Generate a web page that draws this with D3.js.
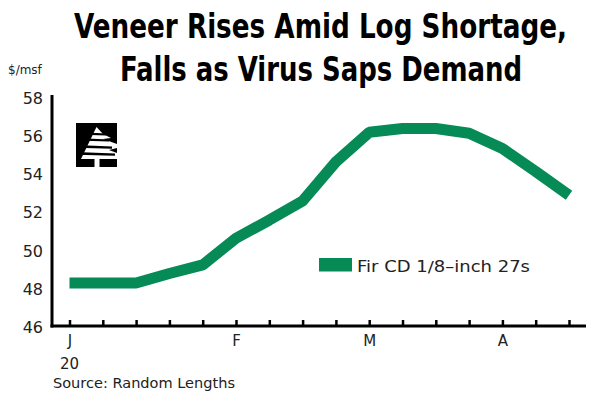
<!DOCTYPE html>
<html>
<head>
<meta charset="utf-8">
<script src="https://cdn.jsdelivr.net/npm/d3@7"></script>
<style>
  body { margin: 0; background: #fff; }
  svg { display: block; }
  .tick text { font-family: "DejaVu Sans", sans-serif; }
</style>
</head>
<body>
<svg id="chart" width="600" height="399"></svg>
<script>
// weekly prices, Jan-Apr 2020
var weeks = d3.range(16);
var prices = [48.25, 48.25, 48.25, 48.75, 49.2, 50.6, 51.55, 52.55, 54.6, 56.15, 56.35, 56.35, 56.1, 55.3, 54.1, 52.85];
var yTicks = [46, 48, 50, 52, 54, 56, 58];
var monthLabels = { 0: "J", 5: "F", 9: "M", 13: "A" };
var seriesName = "Fir CD 1\u22158\u2013inch 27s";

var svg = d3.select("#chart"),
    green = "#068a56",
    font = '"DejaVu Sans", sans-serif';

var x = d3.scaleLinear().domain([0, 15]).range([69.5, 569]),
    y = d3.scaleLinear().domain([46, 58]).range([326, 97]);

// title: narrow font stretched vertically so it stays inside the frame
var titleFont = '"Liberation Sans Narrow", "DejaVu Sans Condensed", sans-serif';
var title = svg.append("g").attr("transform", "scale(1,1.2)");
title.append("text")
   .attr("x", 74).attr("y", 38 / 1.2)
   .attr("font-family", titleFont).attr("font-weight", "bold")
   .attr("font-size", 28)
   .attr("textLength", 493).attr("lengthAdjust", "spacingAndGlyphs")
   .text("Veneer Rises Amid Log Shortage,");
title.append("text")
   .attr("x", 120).attr("y", 81 / 1.2)
   .attr("font-family", titleFont).attr("font-weight", "bold")
   .attr("font-size", 28)
   .attr("textLength", 402).attr("lengthAdjust", "spacingAndGlyphs")
   .text("Falls as Virus Saps Demand");

// unit label
svg.append("text")
   .attr("x", 8).attr("y", 74)
   .attr("font-family", font).attr("font-size", 12)
   .attr("fill", "#222")
   .text("$/msf");

// y axis
var yAxis = svg.append("g")
   .attr("transform", "translate(52,0)")
   .call(d3.axisLeft(y).tickValues(yTicks).tickSize(0).tickPadding(9));
yAxis.select(".domain").remove();
yAxis.selectAll(".tick text")
   .attr("font-size", 16).attr("fill", "#222").attr("dy", "0.4em");
svg.append("line")
   .attr("x1", 52).attr("x2", 52)
   .attr("y1", 95).attr("y2", y(46) + 1.5)
   .attr("stroke", "#000").attr("stroke-width", 3);

// x axis: weekly ticks pointing up
var xAxis = svg.append("g")
   .attr("transform", "translate(0," + y(46) + ")")
   .call(d3.axisBottom(x).tickValues(weeks).tickSize(-6).tickPadding(0)
       .tickFormat(function(d) { return monthLabels[d] || ""; }));
xAxis.select(".domain").remove();
xAxis.selectAll(".tick line").attr("stroke", "#000").attr("stroke-width", 2.5);
xAxis.selectAll(".tick text")
   .attr("font-size", 15).attr("fill", "#222")
   .attr("y", 20).attr("dy", 0);
svg.append("line")
   .attr("x1", 50.5).attr("x2", 586)
   .attr("y1", y(46)).attr("y2", y(46))
   .attr("stroke", "#000").attr("stroke-width", 3);

svg.append("text")
   .attr("x", x(0)).attr("y", 369)
   .attr("text-anchor", "middle")
   .attr("font-family", font).attr("font-size", 15).attr("fill", "#222")
   .text("20");

svg.append("text")
   .attr("x", 53).attr("y", 388)
   .attr("font-family", font).attr("font-size", 14).attr("fill", "#222")
   .attr("textLength", 182).attr("lengthAdjust", "spacingAndGlyphs")
   .text("Source: Random Lengths");

// logo
var logo = svg.append("g").attr("transform", "translate(76,123)");
logo.append("rect").attr("width", 41).attr("height", 44).attr("fill", "#000");
logo.append("path")
   .attr("d", "M20.5,4 L5,36 L41,36 L41,30 L33,27 L41,25 L41,21 L27,16 L35,15 L27,11 Z")
   .attr("fill", "#fff");
logo.append("rect").attr("x", 18.5).attr("y", 35).attr("width", 5).attr("height", 9).attr("fill", "#fff");
[[9, 2], [15, 2], [22, 2.2], [29, 2.2]].forEach(function(s, i) {
  logo.append("path")
     .attr("d", "M0," + s[0] + " L" + (30 + i * 3) + "," + (s[0] + 1.5) + " L" + (30 + i * 3) + "," + (s[0] + 1.5 + s[1]) + " L0," + (s[0] + s[1] + 0.5) + " Z")
     .attr("fill", "#000");
});

// price line
var line = d3.line()
   .x(function(d, i) { return x(weeks[i]); })
   .y(function(d) { return y(d); });

svg.append("path")
   .datum(prices)
   .attr("d", line)
   .attr("fill", "none")
   .attr("stroke", green)
   .attr("stroke-width", 11)
   .attr("stroke-linejoin", "bevel");

// legend
svg.append("rect")
   .attr("x", 319).attr("y", 258)
   .attr("width", 33).attr("height", 13.5)
   .attr("fill", green);
svg.append("text")
   .attr("x", 357).attr("y", 271.5)
   .attr("font-family", font).attr("font-size", 15).attr("fill", "#222")
   .attr("textLength", 173).attr("lengthAdjust", "spacingAndGlyphs")
   .text(seriesName);
</script>
</body>
</html>
